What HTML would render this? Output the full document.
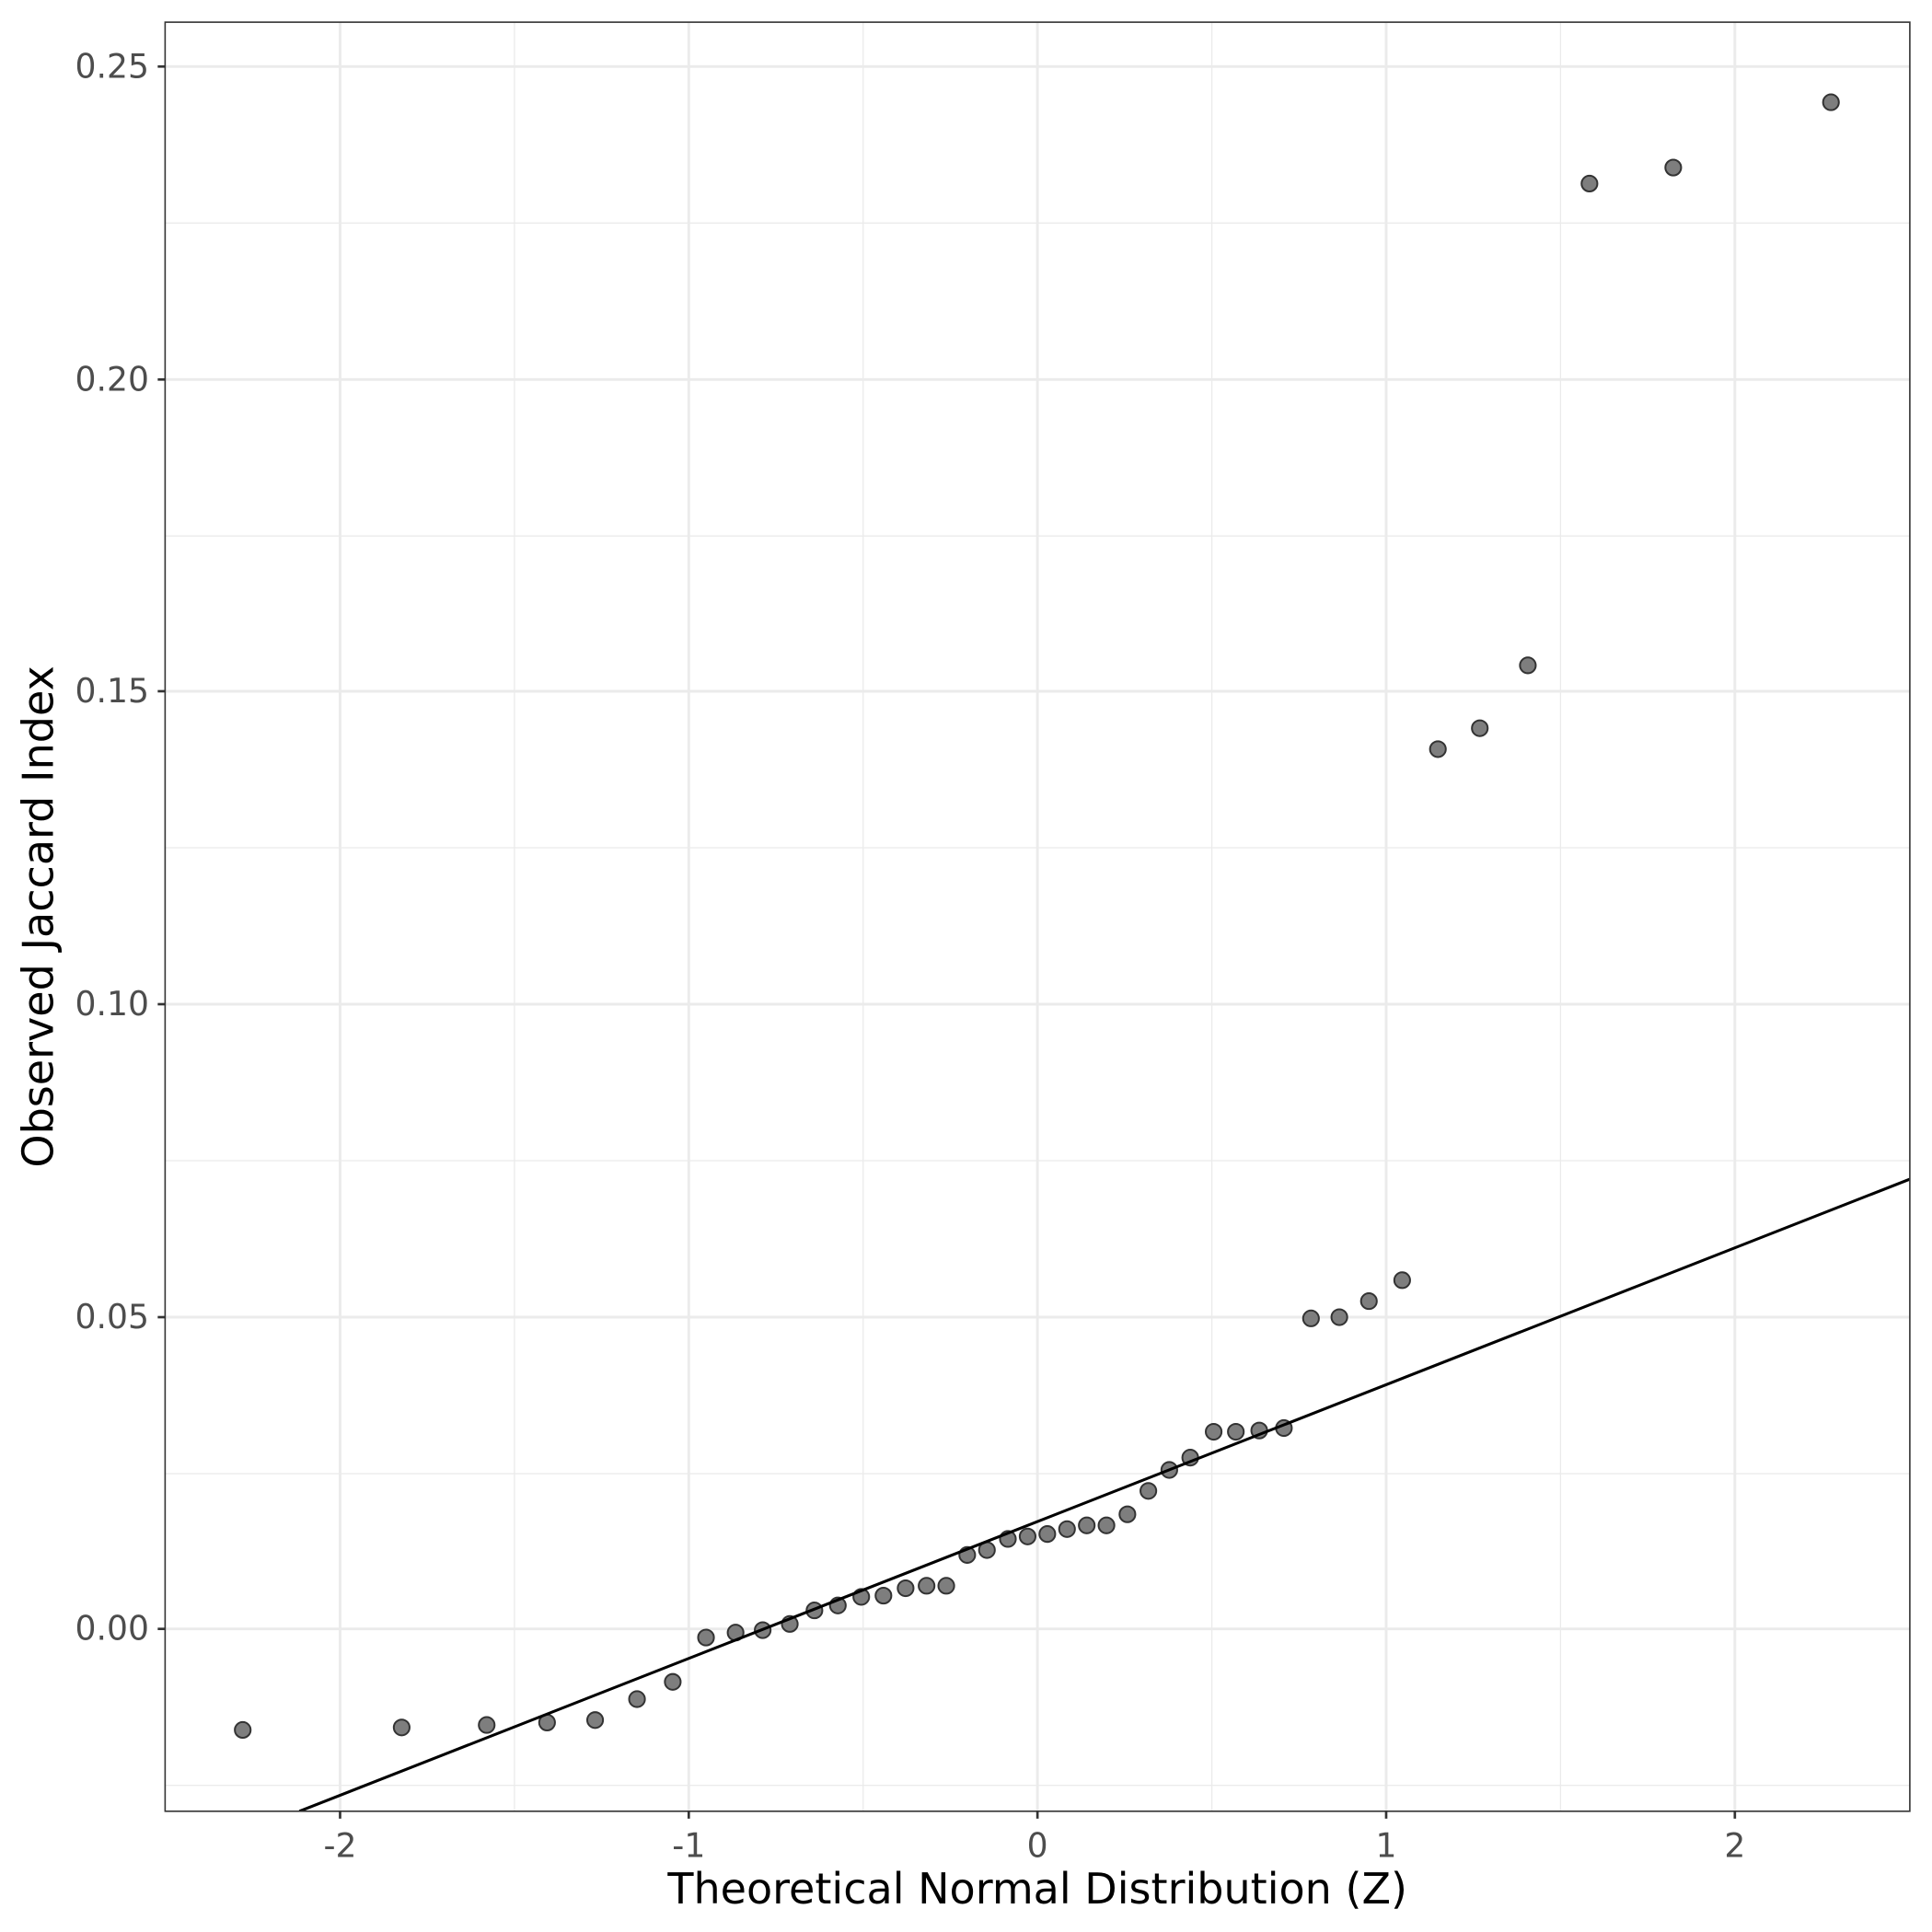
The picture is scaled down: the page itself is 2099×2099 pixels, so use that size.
<!DOCTYPE html>
<html><head><meta charset="utf-8"><style>html,body{margin:0;padding:0;background:#fff}svg{display:block}</style></head>
<body>
<svg width="2099" height="2099" viewBox="0 0 1568 1568" xmlns="http://www.w3.org/2000/svg" font-family="'DejaVu Sans','Liberation Sans',sans-serif">
<rect width="1568" height="1568" fill="#fff"/>
<defs><clipPath id="c"><rect x="134" y="18" width="1416" height="1452"/></clipPath></defs>
<g stroke="#ebebeb" stroke-width="1">
<line x1="134" x2="1550" y1="181" y2="181"/><line x1="134" x2="1550" y1="435" y2="435"/><line x1="134" x2="1550" y1="688" y2="688"/><line x1="134" x2="1550" y1="942" y2="942"/><line x1="134" x2="1550" y1="1196" y2="1196"/><line x1="134" x2="1550" y1="1449" y2="1449"/>
<line y1="18" y2="1470" x1="417.5" x2="417.5"/><line y1="18" y2="1470" x1="700.5" x2="700.5"/><line y1="18" y2="1470" x1="983.5" x2="983.5"/><line y1="18" y2="1470" x1="1266.5" x2="1266.5"/>
</g>
<g stroke="#ebebeb" stroke-width="2.2">
<line x1="134" x2="1550" y1="54" y2="54"/><line x1="134" x2="1550" y1="308" y2="308"/><line x1="134" x2="1550" y1="561" y2="561"/><line x1="134" x2="1550" y1="815" y2="815"/><line x1="134" x2="1550" y1="1069" y2="1069"/><line x1="134" x2="1550" y1="1322" y2="1322"/>
<line y1="18" y2="1470" x1="276" x2="276"/><line y1="18" y2="1470" x1="559" x2="559"/><line y1="18" y2="1470" x1="842" x2="842"/><line y1="18" y2="1470" x1="1125" x2="1125"/><line y1="18" y2="1470" x1="1408" x2="1408"/>
</g>
<g fill="#777" stroke="#333" stroke-width="1.5" fill-opacity="0.95">
<circle cx="197" cy="1404" r="6.4"/><circle cx="326" cy="1402" r="6.4"/><circle cx="395" cy="1400" r="6.4"/><circle cx="444" cy="1398" r="6.4"/><circle cx="483" cy="1396" r="6.4"/><circle cx="517" cy="1379" r="6.4"/><circle cx="546" cy="1365" r="6.4"/><circle cx="573" cy="1329" r="6.4"/><circle cx="597" cy="1325" r="6.4"/><circle cx="619" cy="1323" r="6.4"/><circle cx="641" cy="1318" r="6.4"/><circle cx="661" cy="1307" r="6.4"/><circle cx="680" cy="1303" r="6.4"/><circle cx="699" cy="1296" r="6.4"/><circle cx="717" cy="1295" r="6.4"/><circle cx="735" cy="1289" r="6.4"/><circle cx="752" cy="1287" r="6.4"/><circle cx="768" cy="1287" r="6.4"/><circle cx="785" cy="1262" r="6.4"/><circle cx="801" cy="1258" r="6.4"/><circle cx="818" cy="1249" r="6.4"/><circle cx="834" cy="1247" r="6.4"/><circle cx="850" cy="1245" r="6.4"/><circle cx="866" cy="1241" r="6.4"/><circle cx="882" cy="1238" r="6.4"/><circle cx="898" cy="1238" r="6.4"/><circle cx="915" cy="1229" r="6.4"/><circle cx="932" cy="1210" r="6.4"/><circle cx="949" cy="1193" r="6.4"/><circle cx="966" cy="1183" r="6.4"/><circle cx="985" cy="1162" r="6.4"/><circle cx="1003" cy="1162" r="6.4"/><circle cx="1022" cy="1161" r="6.4"/><circle cx="1042" cy="1159" r="6.4"/><circle cx="1064" cy="1070" r="6.4"/><circle cx="1087" cy="1069" r="6.4"/><circle cx="1111" cy="1056" r="6.4"/><circle cx="1138" cy="1039" r="6.4"/><circle cx="1167" cy="608" r="6.4"/><circle cx="1201" cy="591" r="6.4"/><circle cx="1240" cy="540" r="6.4"/><circle cx="1290" cy="149" r="6.4"/><circle cx="1358" cy="136" r="6.4"/><circle cx="1486" cy="83" r="6.4"/>
</g>
<line x1="243" y1="1470" x2="1550" y2="957" stroke="#000" stroke-width="2.3" clip-path="url(#c)"/>
<rect x="134" y="18" width="1416" height="1452" fill="none" stroke="#333" stroke-width="1.2"/>
<g stroke="#333" stroke-width="2">
<line x1="128" x2="134" y1="54" y2="54"/><line x1="128" x2="134" y1="308" y2="308"/><line x1="128" x2="134" y1="561" y2="561"/><line x1="128" x2="134" y1="815" y2="815"/><line x1="128" x2="134" y1="1069" y2="1069"/><line x1="128" x2="134" y1="1322" y2="1322"/>
<line y1="1470" y2="1476" x1="276" x2="276"/><line y1="1470" y2="1476" x1="559" x2="559"/><line y1="1470" y2="1476" x1="842" x2="842"/><line y1="1470" y2="1476" x1="1125" x2="1125"/><line y1="1470" y2="1476" x1="1408" x2="1408"/>
</g>
<g fill="#4d4d4d" font-size="27" text-anchor="end">
<text x="121" y="63">0.25</text><text x="121" y="317">0.20</text><text x="121" y="570">0.15</text><text x="121" y="824">0.10</text><text x="121" y="1078">0.05</text><text x="121" y="1331">0.00</text>
</g>
<g fill="#4d4d4d" font-size="27" text-anchor="middle">
<text x="276" y="1507">-2</text><text x="559" y="1507">-1</text><text x="842" y="1507">0</text><text x="1125" y="1507">1</text><text x="1408" y="1507">2</text>
</g>
<text x="842" y="1545" font-size="34.4" text-anchor="middle" fill="#000">Theoretical Normal Distribution (Z)</text>
<text transform="translate(43,744) rotate(-90)" font-size="34.4" text-anchor="middle" fill="#000">Observed Jaccard Index</text>
</svg>
</body></html>
